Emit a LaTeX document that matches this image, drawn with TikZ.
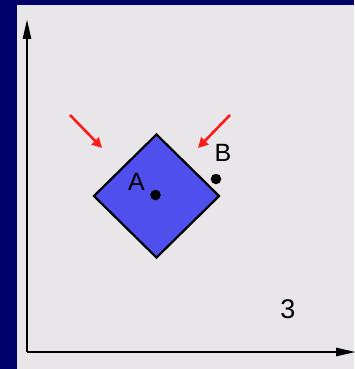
\documentclass[tikz,border=0pt]{standalone}
\usepackage{fontspec}
\setmainfont{Liberation Sans}
\usetikzlibrary{arrows.meta, positioning, calc, shapes.geometric}
\definecolor{framenavy}{HTML}{00006B}
\definecolor{panelgrey}{HTML}{E8E6E8}
\definecolor{shapeblue}{HTML}{4F4FEE}
\definecolor{pushred}{HTML}{FF1A1A}

\begin{document}
\begin{tikzpicture}[
    x=1pt, y=-1pt,
    every node/.style={font=\fontsize{25}{27}\selectfont},
    axis/.style={-{Triangle[length=20pt, width=8pt]}, line width=2.6pt, draw=black},
    body/.style={
      diamond, draw=black, line width=2.2pt, fill=shapeblue,
      minimum width=126pt, minimum height=124pt, inner sep=0pt
    },
    dot/.style={circle, fill=black, minimum size=10.5pt, inner sep=0pt},
    push/.style={-{Triangle[length=10pt, width=10pt]}, line width=2.6pt, draw=pushred},
    pointlabel/.style={inner sep=0pt}
  ]

  % ===== frame and panel =====
  \fill[framenavy] (0,0) rectangle (354,369);
  \fill[panelgrey] (17,5) rectangle (354,369);
  \useasboundingbox (0,0) rectangle (354,369);

  % ===== axes =====
  \coordinate (origin) at (27,352);
  \coordinate (ytop)   at (27,19);
  \coordinate (xend)   at (356,352);
  \draw[axis] (origin) -- (ytop);
  \draw[axis] (origin) -- (xend);

  % ===== square body with points =====
  \node[body] (square) at (156.5,196) {};
  \node[dot] (ptA) at (155.5,195) {};
  \node[pointlabel] (labA) at (136.5,182) {A};
  \node[dot] (ptB) at (216,179) {};
  \node[pointlabel] (labB) at (223,153) {B};

  % ===== pushing arrows =====
  \coordinate (pushL) at (70,115);
  \coordinate (hitL)  at (102,148);
  \coordinate (pushR) at (230,115);
  \coordinate (hitR)  at (198,148);
  \draw[push] (pushL) -- (hitL);
  \draw[push] (pushR) -- (hitR);

  % ===== step number =====
  \node[font=\fontsize{27}{29}\selectfont] (stepno) at (288,309) {3};

\end{tikzpicture}
\end{document}
